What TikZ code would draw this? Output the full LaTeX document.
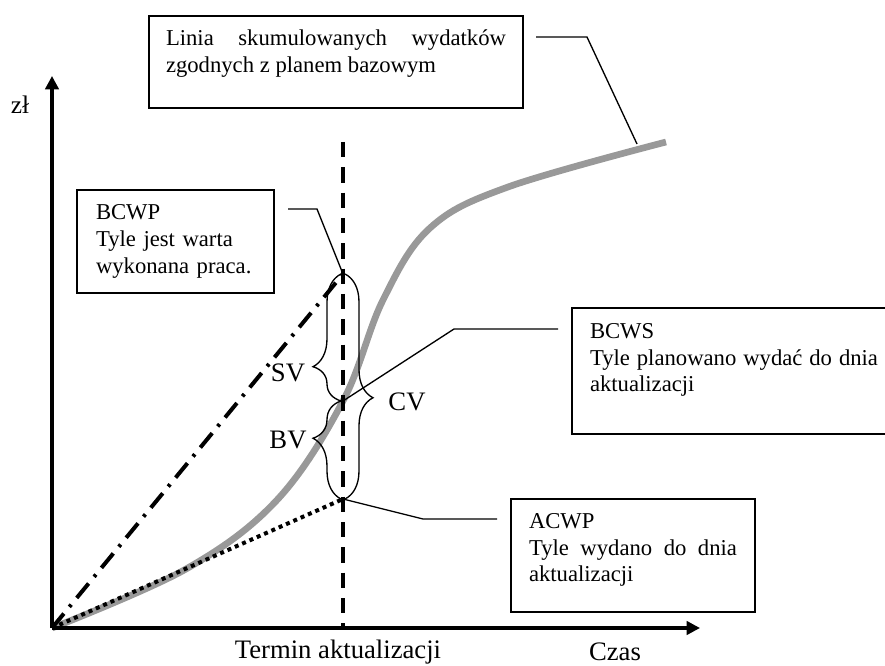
\documentclass[tikz,border=0pt]{standalone}
\usepackage{fontspec}
\setmainfont{Liberation Serif}
\usepackage{tikz}
\usetikzlibrary{arrows.meta,decorations.pathreplacing}
\definecolor{plangray}{gray}{0.6}
\hyphenpenalty=10000
\tolerance=10000
\tikzstyle{note} = [draw, rectangle, anchor=north west, line width=1pt, outer sep=0pt, inner ysep=0pt, font=\fontsize{17}{20}\selectfont]
\tikzstyle{leader} = [line width=1pt]
\tikzstyle{axis} = [line width=2.4pt, -{Triangle[length=10pt,width=10pt]}]
\tikzstyle{gap} = [draw, line width=1pt, decorate]
\tikzstyle{lbl} = [inner sep=0pt, font=\fontsize{20}{24}\selectfont]

\begin{document}
\begin{tikzpicture}[x=0.75pt, y=-0.75pt]
    \clip (0,0) rectangle (885,666);
    \coordinate (o) at (52,628);
    \coordinate (ytop) at (52,76);
    \coordinate (xend) at (700,628);
    \coordinate (now) at (343,142);
    \coordinate (nowbase) at (343,630);
    \coordinate (bcwp) at (343,274);
    \coordinate (bcws) at (343,401);
    \coordinate (acwp) at (343,499);
    \coordinate (plan) at (637,144);
    \draw[plangray, line width=5pt] plot[smooth, tension=0.6] coordinates {(52,628) (186,569) (277,500) (343,401) (383,300) (430,228) (508,187) (666,142)};
    \draw[line width=3pt, dash pattern=on 14pt off 6.5pt on 2.2pt off 6.5pt] (o) -- (bcwp);
    \draw[line width=3pt, dash pattern=on 3pt off 3pt] (o) -- (acwp);
    \draw[line width=3pt, dash pattern=on 11.5pt off 7.5pt] (now) -- (nowbase);
    \draw[axis] (o) -- (ytop);
    \draw[axis] (o) -- (xend);
    \node[lbl, font=\fontsize{19}{22}\selectfont] (zl) at (20,105) {zł};
    \node[lbl] (termin) at (338,652) {Termin aktualizacji};
    \node[lbl] (czas) at (615,652) {Czas};
    \draw[gap, decoration={brace, amplitude=21pt, aspect=0.27}] ([xshift=-1.5pt]bcws) -- ([xshift=-1.5pt]bcwp);
    \draw[gap, decoration={brace, amplitude=21pt, aspect=0.62}] ([xshift=-1.5pt]acwp) -- ([xshift=-1.5pt]bcws);
    \draw[gap, decoration={brace, amplitude=21pt, aspect=0.55}] ([xshift=1.5pt]bcwp) -- ([xshift=1.5pt]acwp);
    \node[lbl] (sv) at (288,373) {SV};
    \node[lbl] (bv) at (288,440) {BV};
    \node[lbl] (cv) at (407,402) {CV};
    \node[note, text width=255pt, inner xsep=12.75pt, minimum width=280.5pt, minimum height=69pt, align=justify] (plannote) at (149,16) {Linia skumulowanych wydatków zgodnych z planem bazowym\\[-4pt]\mbox{}};
    \node[note, text width=119.25pt, inner xsep=14.25pt, minimum width=147.75pt, minimum height=77.25pt, align=left] (bcwpnote) at (77,190) {BCWP\\Tyle jest warta\\wykonana praca.};
    \node[note, text width=216pt, inner xsep=13.5pt, minimum width=243pt, minimum height=94.5pt, align=justify] (bcwsnote) at (572,308) {BCWS\\Tyle planowano wydać do dnia aktualizacji\\\mbox{}};
    \node[note, text width=156pt, inner xsep=13.5pt, minimum width=183pt, minimum height=84.75pt, align=justify] (acwpnote) at (511,499) {ACWP\\Tyle wydano do dnia aktualizacji\\[-8pt]\mbox{}};
    \draw[leader] ([shift={(13,21)}]plannote.north east) -- ++(51,0) -- (plan);
    \draw[leader] ([shift={(14,19)}]bcwpnote.north east) -- ++(29,0) -- (bcwp);
    \draw[leader] ([shift={(-14,21)}]bcwsnote.north west) -- ++(-104,0) -- (bcws);
    \draw[leader] ([shift={(-14,20)}]acwpnote.north west) -- ++(-74,0) -- (acwp);
\end{tikzpicture}
\end{document}
